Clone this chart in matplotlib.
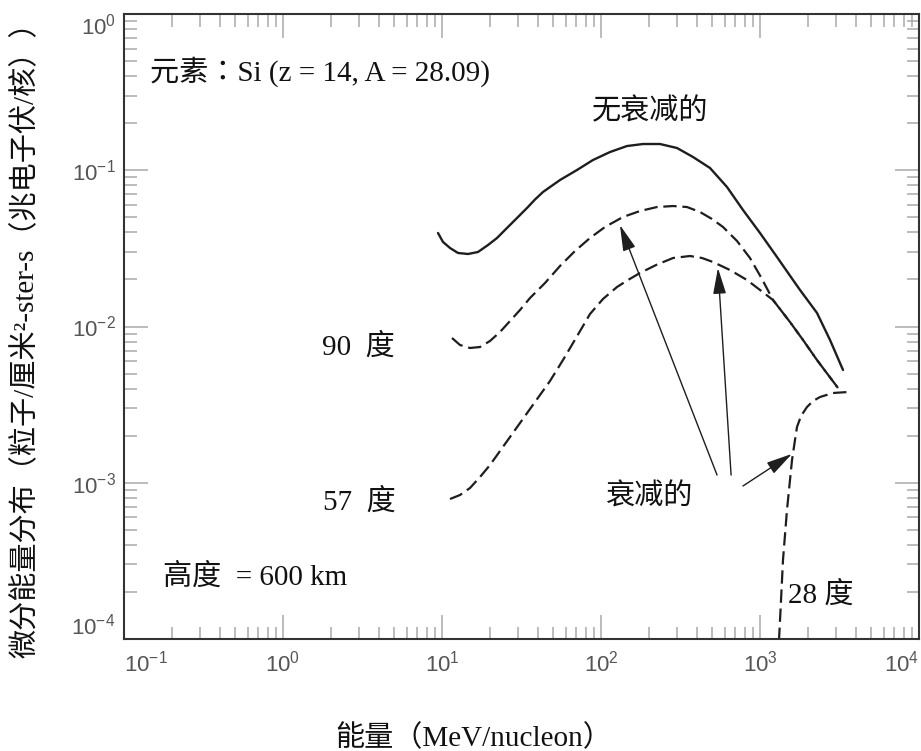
import numpy as np
import matplotlib
matplotlib.use('Agg')
import matplotlib.pyplot as plt
from matplotlib.ticker import NullFormatter

plt.rcParams['font.family'] = ['Liberation Sans', 'Noto Sans CJK SC']
SERIF_CJK = ['Liberation Serif', 'Noto Sans CJK SC']

# =============================================================================
# data  (energy in MeV/nucleon, flux)
# =============================================================================

# unattenuated spectrum (solid)
e_free = [9.437, 10.15, 11.23, 12.61, 14.57, 16.84, 19.47, 22.18, 25.63, 29.63,
          34.24, 38.45, 43.17, 55.23, 70.66, 89.06, 113.9, 145.7, 183.8, 235.0,
          300.6, 378.9, 484.6, 620.0, 781.9, 1000, 1279, 1613, 1785, 2283, 2756,
          3327]
f_free = [0.03967, 0.03474, 0.03180, 0.02955, 0.02911, 0.02998, 0.03323, 0.03684,
          0.04271, 0.04948, 0.05733, 0.06497, 0.07259, 0.08660, 0.1004, 0.1163,
          0.1308, 0.1429, 0.1472, 0.1472, 0.1388, 0.1216, 0.1034, 0.07813,
          0.05566, 0.03967, 0.02784, 0.01984, 0.01713, 0.01221, 0.00820, 0.00527]

# attenuated, 90 deg inclination
e_90 = [11.56, 12.98, 15.00, 17.34, 20.04, 23.16, 26.77, 30.94, 35.77, 44.44,
        55.23, 68.62, 85.27, 105.97, 137.5, 175.9, 225.0, 283.7, 347.4, 419.3,
        499.0, 585.3, 716.8, 865.0, 1029, 1207, 1544, 1864, 2283, 3094]
f_90 = [0.008443, 0.007613, 0.007284, 0.007392, 0.008078, 0.009222, 0.01084,
        0.01275, 0.01522, 0.01898, 0.02439, 0.03042, 0.03684, 0.04334, 0.05021,
        0.05485, 0.05816, 0.05902, 0.05816, 0.05405, 0.04875, 0.04334, 0.03526,
        0.02744, 0.02014, 0.01478, 0.01068, 0.00820, 0.00610, 0.004041]

# attenuated, 57 deg inclination
e_57 = [11.23, 12.98, 15.00, 17.34, 20.04, 24.90, 30.94, 38.45, 47.78, 57.68,
        69.62, 85.27, 102.9, 126.1, 147.8, 175.9, 221.8, 283.7, 362.8, 431.8,
        506.3, 647.6, 828.2, 1000, 1207, 1544, 1864, 2283, 3094]
f_57 = [7.870e-4, 8.348e-4, 9.256e-4, 1.088e-3, 1.299e-3, 1.770e-3, 2.412e-3,
        3.287e-3, 4.479e-3, 6.103e-3, 8.443e-3, 0.01202, 0.01500, 0.01790,
        0.01984, 0.02200, 0.02474, 0.02744, 0.02826, 0.02744, 0.02587, 0.02298,
        0.01984, 0.01713, 0.01478, 0.01068, 0.00820, 0.00610, 0.004041]

# attenuated, 28 deg inclination
e_28 = [1298, 1356, 1395, 1436, 1478, 1544, 1590, 1660, 1709, 1811, 1975, 2154,
        2385, 2878, 3577]
f_28 = [7.337e-5, 1.777e-4, 3.202e-4, 4.628e-4, 6.692e-4, 1.041e-3, 1.398e-3,
        1.877e-3, 2.274e-3, 2.675e-3, 3.053e-3, 3.335e-3, 3.538e-3, 3.753e-3,
        3.808e-3]

x_ticks = [0.1, 1, 10, 100, 1000, 10000]
x_tick_labels = [r'$\mathregular{10^{-1}}$', r'$\mathregular{10^{0}}$',
                 r'$\mathregular{10^{1}}$', r'$\mathregular{10^{2}}$',
                 r'$\mathregular{10^{3}}$', r'$\mathregular{10^{4}}$']
y_ticks = [1e-4, 1e-3, 1e-2, 1e-1, 1]
y_tick_labels = [r'$\mathregular{10^{-4}}$', r'$\mathregular{10^{-3}}$',
                 r'$\mathregular{10^{-2}}$', r'$\mathregular{10^{-1}}$',
                 r'$\mathregular{10^{0}}$']

# =============================================================================

W, H = 921, 751


def px(x, y):
    # pixel position -> figure fraction
    return x / W, 1 - y / H


fig = plt.figure(figsize=(W / 100, H / 100), dpi=100)
ax = fig.add_axes([124 / W, 1 - 639 / H, (919 - 124) / W, (639 - 14) / H])
ax.set_xscale('log')
ax.set_yscale('log')
ax.set_xlim(0.1, 1e4)
ax.set_ylim(1e-4, 1)

ink = '#1e1e1e'
ax.plot(e_free, f_free, color=ink, lw=1.7, solid_capstyle='round',
        solid_joinstyle='round')
for e, f in [(e_90, f_90), (e_57, f_57), (e_28, f_28)]:
    ax.plot(e, f, color=ink, lw=1.6, dashes=(6, 2.6))

# ticks
ax.set_xticks(x_ticks)
ax.set_xticklabels(x_tick_labels)
ax.set_yticks(y_ticks)
ax.set_yticklabels(y_tick_labels)
ax.xaxis.set_minor_formatter(NullFormatter())
ax.yaxis.set_minor_formatter(NullFormatter())
ax.tick_params(which='both', direction='in', top=True, right=True,
               color='#aaaaaa', width=1.1, labelcolor='#555555', labelsize=16)
ax.tick_params(which='major', length=17)
ax.tick_params(which='minor', length=9)
ax.tick_params(axis='x', pad=8)
ax.tick_params(axis='y', pad=6)
xl = ax.get_xticklabels()
xl[0].set_ha('left')
xl[-1].set_ha('right')
yl = ax.get_yticklabels()
yl[0].set_va('bottom')
yl[-1].set_va('top')

for s in ax.spines.values():
    s.set_linewidth(1.5)
    s.set_color('#333333')

# arrows from the label to the attenuated curves
arrow = dict(arrowstyle='-|>,head_length=0.8,head_width=0.2', lw=1.0,
             color=ink, shrinkA=0, shrinkB=0, mutation_scale=20)
ax.annotate('', xy=(131.5, 0.0446), xytext=(537, 1.12e-3), arrowprops=arrow)
ax.annotate('', xy=(544, 0.0237), xytext=(658, 1.12e-3), arrowprops=arrow)
ax.annotate('', xy=(1589, 1.53e-3), xytext=(781, 9.53e-4), arrowprops=arrow)

# texts
txt = dict(fontsize=21, color='#111111', family=SERIF_CJK)
fig.text(*px(150, 72), '元素：Si (z = 14, A = 28.09)', ha='left', va='center',
         fontsize=21, color='#111111', family=['Liberation Serif', 'Noto Sans CJK TC'])
fig.text(*px(650, 112), '无衰减的', ha='center', va='center', **txt)
fig.text(*px(322, 347), '90  度', ha='left', va='center', **txt)
fig.text(*px(323, 502), '57  度', ha='left', va='center', **txt)
fig.text(*px(163, 577), '高度  = 600 km', ha='left', va='center', **txt)
fig.text(*px(650, 497), '衰减的', ha='center', va='center', **txt)
fig.text(*px(788, 595), '28 度', ha='left', va='center', **txt)

fig.text(*px(474, 738), '能量（MeV/nucleon）', ha='center', va='center', **txt)
fig.text(*px(26, 333), '微分能量分布（粒子/厘米²-ster-s（兆电子伏/核））',
         ha='center', va='center', rotation=90, **txt)

fig.savefig('out.png', dpi=100)
